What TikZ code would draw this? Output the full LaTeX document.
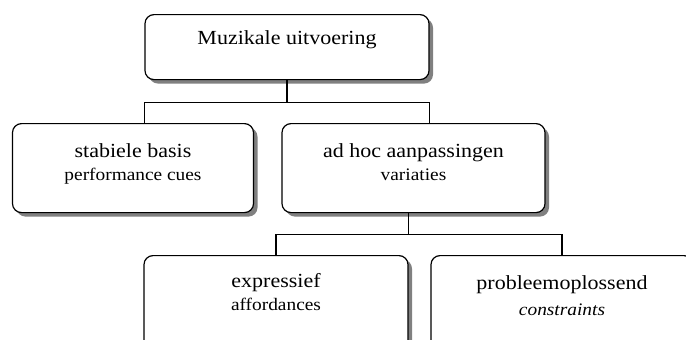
\documentclass[tikz,border=0pt]{standalone}
\usepackage{fontspec}
\setmainfont[FakeStretch=1.1]{Liberation Serif}
\usetikzlibrary{shadows}
\newcommand\subtxt[1]{{\fontsize{17.6}{23}\selectfont #1}}

\begin{document}
\begin{tikzpicture}[
  x=1pt,y=-1pt,
  font=\fontsize{20}{23}\selectfont,
  box/.style={draw,line width=1.2pt,rounded corners=9pt,fill=white,align=center,
    anchor=north,inner xsep=0pt,inner ysep=0pt,
    drop shadow={shadow xshift=4pt,shadow yshift=-4pt,fill=black!50,opacity=1}},
  ln/.style={line width=1.2pt}]
\useasboundingbox (0,0) rectangle (686,340);
\clip (0,0) rectangle (686,340);
\node[box,minimum width=284pt,text height=30pt,text depth=35pt] (top) at (287,14) {Muzikale uitvoering};
\node[box,minimum width=241pt,text height=57pt,text depth=32pt] (stab) at (133,123) {stabiele basis\\\subtxt{performance cues}};
\node[box,minimum width=263pt,text height=57pt,text depth=32pt] (adhoc) at (413.5,123) {ad hoc aanpassingen\\\subtxt{variaties}};
\node[box,minimum width=264pt,text height=55pt,text depth=100pt] (expr) at (276,255) {expressief\\\subtxt{affordances}};
\node[box,minimum width=262pt,text height=60pt,text depth=100pt] (prob) at (562,255) {probleemoplossend\\[3pt]\subtxt{\itshape constraints}};
% connectors
\draw[ln] (top.south) -- ++(0,22) coordinate (bar1);
\draw[ln] (top.west |- stab.north) |- (bar1) -| (top.east |- adhoc.north);
\draw[ln] (adhoc.south -| expr.east) -- ++(0,21) coordinate (bar2);
\draw[ln] (expr.north) |- (bar2) -| (prob.north);
\end{tikzpicture}
\end{document}
